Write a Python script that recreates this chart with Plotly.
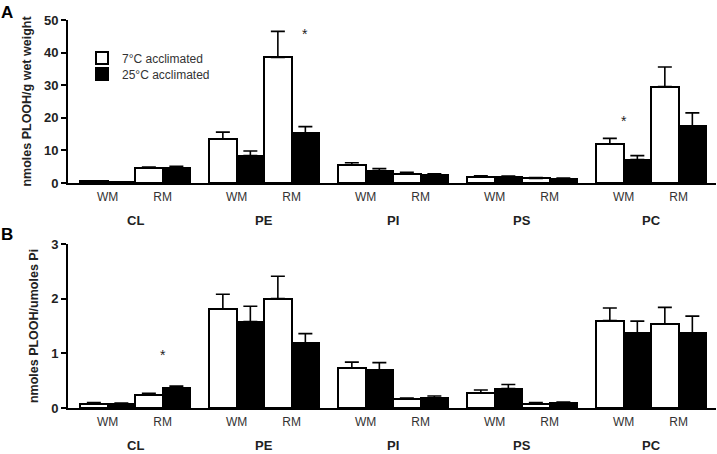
import plotly.graph_objects as go
from plotly.subplots import make_subplots

classes = ["CL", "PE", "PI", "PS", "PC"]
tissues = ["WM", "RM"]
series_names = ["7°C acclimated", "25°C acclimated"]

# Panel A: nmoles PLOOH/g wet weight  (order: CL WM, CL RM, PE WM, PE RM, ...)
a_7c = [0.5, 4.6, 13.5, 38.5, 5.6, 2.9, 1.9, 1.4, 11.9, 29.6]
a_7c_err = [0.2, 0.3, 2.1, 8.0, 0.6, 0.4, 0.3, 0.3, 1.8, 6.0]
a_25c = [0.3, 4.7, 8.4, 15.2, 3.7, 2.4, 1.8, 1.3, 7.2, 17.4]
a_25c_err = [0.1, 0.4, 1.4, 2.1, 0.7, 0.4, 0.3, 0.2, 1.2, 4.1]

# Panel B: nmoles PLOOH/umoles Pi
b_7c = [0.08, 0.245, 1.81, 2.0, 0.73, 0.16, 0.275, 0.08, 1.60, 1.54]
b_7c_err = [0.02, 0.025, 0.27, 0.41, 0.11, 0.02, 0.055, 0.02, 0.23, 0.30]
b_25c = [0.07, 0.37, 1.58, 1.19, 0.69, 0.18, 0.355, 0.09, 1.37, 1.37]
b_25c_err = [0.02, 0.03, 0.28, 0.17, 0.14, 0.04, 0.075, 0.02, 0.22, 0.31]

# significance asterisks: (panel row, class, tissue, bar side, y)
stars = [(1, "PE", "RM", 0.5, 46.5), (1, "PC", "WM", 0.0, 19.9), (2, "CL", "RM", 0.0, 1.03)]

STRIDE = 4.69  # class block stride in bar-width units
def pos(ci, ti):
    return ci * STRIDE + 1 + 2 * ti

xs = [pos(ci, ti) for ci in range(len(classes)) for ti in range(len(tissues))]
tickvals = xs
ticktext = [t for c in classes for t in tissues]
class_centers = [ci * STRIDE + 2 for ci in range(len(classes))]

FONT = "Liberation Sans, Arial, sans-serif"
W, H = 717, 454
ML, MR, MT, MB = 68, 1, 20, 46
PH = H - MT - MB

fig = make_subplots(rows=2, cols=1, vertical_spacing=0.0)
fig.update_layout(
    yaxis=dict(domain=[(H - MB - 183) / PH, 1.0]),
    yaxis2=dict(domain=[0.0, (H - MB - 244) / PH]),
)

panels = [(1, a_7c, a_7c_err, a_25c, a_25c_err), (2, b_7c, b_7c_err, b_25c, b_25c_err)]
for row, w, we, k, ke in panels:
    fig.add_trace(go.Bar(
        x=xs, y=w, name=series_names[0], showlegend=(row == 1), legend="legend",
        marker=dict(color="white", line=dict(color="black", width=2)),
        error_y=dict(type="data", array=we, arrayminus=[0] * len(we), symmetric=False,
                     color="black", thickness=1.6, width=7),
    ), row=row, col=1)
    fig.add_trace(go.Bar(
        x=xs, y=k, name=series_names[1], showlegend=(row == 1), legend="legend2",
        marker=dict(color="black", line=dict(color="black", width=2)),
        error_y=dict(type="data", array=ke, arrayminus=[0] * len(ke), symmetric=False,
                     color="black", thickness=1.6, width=7),
    ), row=row, col=1)

xrange = [-0.44, (len(classes) - 1) * STRIDE + 4 + 0.36]
for row in (1, 2):
    fig.update_xaxes(
        row=row, col=1, range=xrange, tickvals=tickvals, ticktext=ticktext,
        showline=True, linecolor="black", linewidth=2, ticks="", showgrid=False,
        zeroline=False, tickfont=dict(family=FONT, size=12, color="#333"),
        ticklabelstandoff=2,
    )

fig.update_yaxes(row=1, col=1, range=[0, 50], tickvals=[0, 10, 20, 30, 40, 50],
                 title=dict(text="nmoles PLOOH/g wet weight", standoff=10,
                            font=dict(family=FONT, size=12.5, color="#222", weight="bold")))
fig.update_yaxes(row=2, col=1, range=[0, 3], tickvals=[0, 1, 2, 3],
                 title=dict(text="nmoles PLOOH/umoles Pi", standoff=10,
                            font=dict(family=FONT, size=12.5, color="#222", weight="bold")))
fig.update_yaxes(showline=True, linecolor="black", linewidth=2, ticks="outside",
                 ticklen=5, tickwidth=2, tickcolor="black", showgrid=False, zeroline=False,
                 tickfont=dict(family=FONT, size=13, color="#222", weight="bold"))

ann = []
for row in (1, 2):
    xref = "x" if row == 1 else "x2"
    yref = "y" if row == 1 else "y2"
    for c, cx in zip(classes, class_centers):
        ann.append(dict(x=cx, y=0, xref=xref, yref=yref, text=c, showarrow=False,
                        yshift=-37, yanchor="middle",
                        font=dict(family=FONT, size=13, color="#222", weight="bold")))
for row, c, t, side, yv in stars:
    xref = "x" if row == 1 else "x2"
    yref = "y" if row == 1 else "y2"
    ann.append(dict(x=pos(classes.index(c), tissues.index(t)) + side, y=yv, xref=xref, yref=yref,
                    text="*", showarrow=False, yanchor="middle", yshift=-3,
                    font=dict(family=FONT, size=14, color="#222")))
ann.append(dict(x=(7 - ML) / (W - ML - MR), y=(H - MB - 12.5) / PH, xref="paper", yref="paper",
                text="A", showarrow=False, xanchor="center", yanchor="middle",
                font=dict(family=FONT, size=17, color="black", weight="bold")))
ann.append(dict(x=(7 - ML) / (W - ML - MR), y=(H - MB - 234) / PH, xref="paper", yref="paper",
                text="B", showarrow=False, xanchor="center", yanchor="middle",
                font=dict(family=FONT, size=17, color="black", weight="bold")))
fig.update_layout(annotations=ann)

leg_common = dict(xanchor="left", yanchor="middle", bgcolor="rgba(0,0,0,0)",
                  font=dict(family=FONT, size=12, color="#333"))
fig.update_layout(
    width=W, height=H,
    margin=dict(l=ML, r=MR, t=MT, b=MB, autoexpand=False),
    paper_bgcolor="white", plot_bgcolor="white",
    barmode="group", bargap=0, bargroupgap=0,
    legend=dict(x=(82 - ML) / (W - ML - MR), y=(H - MB - 58) / PH, **leg_common),
    legend2=dict(x=(82 - ML) / (W - ML - MR), y=(H - MB - 74) / PH, **leg_common),
)

fig.write_html("out.html", config={"displayModeBar": False},
               post_script="document.body.style.margin='0';")
